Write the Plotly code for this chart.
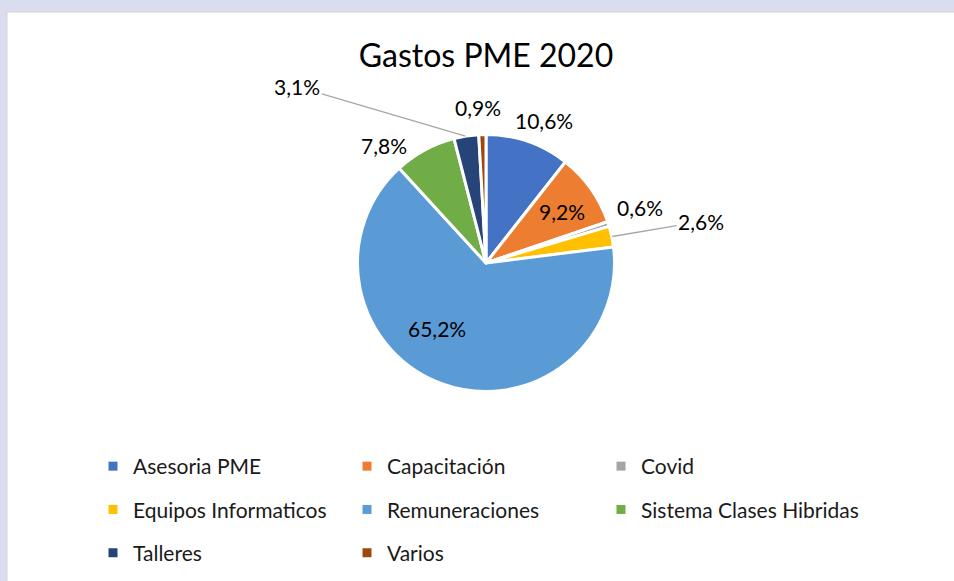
import math
import plotly.graph_objects as go

categories = ["Asesoria PME", "Capacitación", "Covid", "Equipos Informaticos",
              "Remuneraciones", "Sistema Clases Hibridas", "Talleres", "Varios"]
values = [10.6, 9.2, 0.6, 2.6, 65.2, 7.8, 3.1, 0.9]
colors = ["#4472C4", "#ED7D31", "#A5A5A5", "#FFC000",
          "#5B9BD5", "#70AD47", "#264478", "#9E480E"]

# label placement (pixel offset of the label from the slice's rim point) and leader flag
label_offsets = [(16, -22), (-28, 22), (32, -17), (90, -15),
                 (-5, -55), (-41, -5), (-169, -50), (-4, -28)]
leader = [False, False, False, True, False, False, True, False]

W, H = 954, 581
FONT = "Lato"
cx, cy, r = 486, 263, 127
r_dom = 128.5

fig = go.Figure()
fig.add_trace(go.Pie(
    labels=categories, values=values, sort=False, direction="clockwise", rotation=0,
    marker=dict(colors=colors, line=dict(color="white", width=3)),
    textinfo="none", showlegend=False, hoverinfo="label+percent",
    domain=dict(x=[(cx - r_dom) / W, (cx + r_dom) / W],
                y=[(H - cy - r_dom) / H, (H - cy + r_dom) / H]),
    automargin=False,
))

# data labels as annotations anchored on each slice's rim at its mid-angle
total = sum(values)
annotations = []
cum = 0.0
for i, v in enumerate(values):
    mid = (cum + v / 2) / total * 2 * math.pi
    cum += v
    px = cx + (r + 1) * math.sin(mid)
    py = cy - (r + 1) * math.cos(mid)
    txt = f"{v / total * 100:.1f}%".replace(".", ",")
    dx, dy = label_offsets[i]
    a = dict(x=px / W, y=1 - py / H, xref="paper", yref="paper", text=txt,
             xanchor="center", yanchor="middle",
             font=dict(family=FONT, size=21, color="black"))
    if leader[i]:
        a.update(showarrow=True, ax=dx, ay=dy, arrowhead=0, arrowwidth=1.3,
                 arrowcolor="#A6A6A6", standoff=1)
    else:
        a.update(showarrow=False, xshift=dx, yshift=-dy)
    annotations.append(a)

# legend: one vertical legend per column, one group per entry for row spacing
col_x = [93, 347, 601]
legend_names = ["legend", "legend2", "legend3"]
for i, name in enumerate(categories):
    fig.add_trace(go.Scatter(
        x=[None], y=[None], mode="markers", name=name,
        marker=dict(symbol="square", size=9, color=colors[i]),
        legend=legend_names[i % 3], legendgroup=f"g{i}", showlegend=True,
    ))

legend_common = dict(orientation="v", xanchor="left", yanchor="top",
                     y=1 - 446 / H, tracegroupgap=13,
                     font=dict(family=FONT, size=21, color="#1a1a1a"),
                     bgcolor="rgba(0,0,0,0)", itemclick=False, itemdoubleclick=False)

fig.update_layout(
    width=W, height=H, margin=dict(l=0, r=0, t=0, b=0),
    paper_bgcolor="#dadcf0", plot_bgcolor="rgba(0,0,0,0)",
    title=dict(text="Gastos PME 2020", x=cx / W, xanchor="center",
               y=1 - 56 / H, yanchor="middle",
               font=dict(family=FONT, size=32, color="black")),
    xaxis=dict(visible=False), yaxis=dict(visible=False),
    legend=dict(**legend_common, x=col_x[0] / W),
    legend2=dict(**legend_common, x=col_x[1] / W),
    legend3=dict(**legend_common, x=col_x[2] / W),
    annotations=annotations,
    shapes=[dict(type="rect", xref="paper", yref="paper", x0=7 / W, x1=1.01,
                 y0=-0.01, y1=1 - 12 / H, fillcolor="white",
                 line=dict(color="#d4d4d4", width=1), layer="below")],
)

fig.write_html("out.html", config={"displayModeBar": False},
               post_script="document.body.style.margin='0';")
